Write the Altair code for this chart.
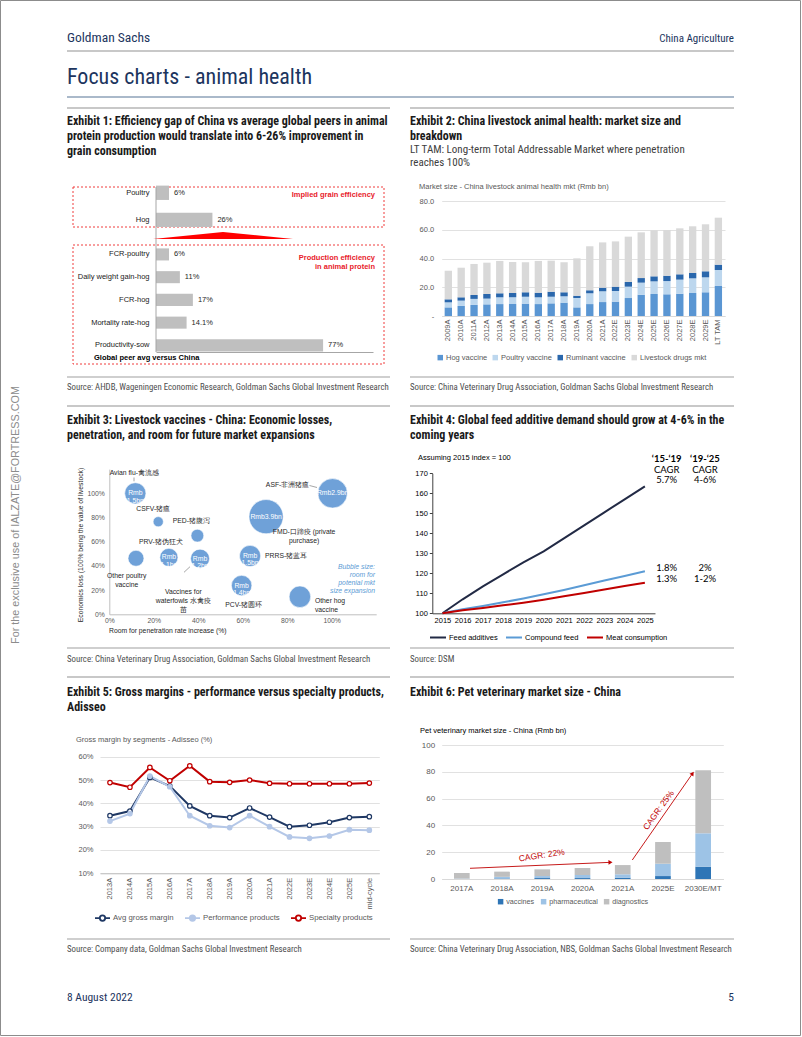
import altair as alt
import pandas as pd

# ------------------------------------------------------------------ data
e1_top_cats = ["Poultry", "Hog"]
e1_top_vals = [6, 26]
e1_top_text = ["6%", "26%"]
e1_bot_cats = ["FCR-poultry", "Daily weight gain-hog", "FCR-hog", "Mortality rate-hog", "Productivity-sow"]
e1_bot_vals = [6, 11, 17, 14.1, 77]
e1_bot_text = ["6%", "11%", "17%", "14.1%", "77%"]

e2_years = ["2009A", "2010A", "2011A", "2012A", "2013A", "2014A", "2015A", "2016A", "2017A", "2018A",
            "2019A", "2020A", "2021A", "2022E", "2023E", "2024E", "2025E", "2026E", "2027E", "2028E",
            "2029E", "LT TAM"]
e2_hog = [6.0, 7.0, 7.7, 8.1, 8.3, 8.3, 8.6, 8.3, 8.8, 9.3, 6.0, 8.3, 9.7, 10.0, 12.5, 14.8, 15.3, 15.1, 15.5, 16.0, 16.5, 20.9]
e2_poultry = [3.5, 3.7, 4.2, 4.0, 4.7, 4.7, 4.8, 4.7, 4.6, 4.4, 6.5, 7.5, 7.5, 7.4, 7.9, 8.4, 8.8, 9.2, 9.8, 10.2, 10.4, 11.1]
e2_ruminant = [2.1, 2.3, 2.7, 3.2, 2.8, 3.0, 3.1, 3.2, 3.5, 2.8, 1.6, 2.1, 2.5, 3.0, 3.3, 3.2, 3.5, 3.7, 3.7, 3.7, 4.2, 3.7]
e2_drugs = [19.9, 20.6, 21.6, 21.8, 22.5, 21.6, 20.9, 22.1, 21.6, 20.9, 26.0, 30.6, 31.5, 31.5, 31.5, 31.8, 32.0, 31.8, 32.0, 32.5, 32.7, 32.7]
e2_series = ["Hog vaccine", "Poultry vaccine", "Ruminant vaccine", "Livestock drugs mkt"]

e3_names = ["Avian flu", "CSFV", "PED", "PRV", "Other poultry", "Waterfowls", "ASF", "FMD", "PRRS", "PCV", "Other hog"]
e3_labels = ["Avian flu-禽流感", "CSFV-猪瘟", "PED-猪腹泻", "PRV-猪伪狂犬", "Other poultry\nvaccine",
             "Vaccines for\nwaterfowls 水禽疫\n苗", "ASF-非洲猪瘟", "FMD-口蹄疫 (private\npurchase)", "PRRS-猪蓝耳",
             "PCV-猪圆环", "Other hog\nvaccine"]
e3_room = [0.117, 0.22, 0.396, 0.268, 0.12, 0.408, 1.004, 0.705, 0.633, 0.595, 0.857]
e3_loss = [1.00, 0.765, 0.65, 0.47, 0.463, 0.46, 1.00, 0.807, 0.482, 0.237, 0.145]
e3_size = [1.5, 0.35, 0.55, 1.1, 0.85, 1.2, 2.9, 3.9, 1.5, 1.4, 1.55]
e3_inner = ["Rmb\n1.5bn", "", "", "Rmb\n1.1bn", "", "Rmb\n1.2bn", "Rmb2.9bn", "Rmb3.9bn", "Rmb\n1.5bn", "Rmb\n1.4bn", ""]

e4_years = ["2015", "2016", "2017", "2018", "2019", "2020", "2021", "2022", "2023", "2024", "2025"]
e4_feed = [100, 107, 113.5, 119.5, 125.5, 131, 137.5, 144, 150.5, 157, 163.5]
e4_compound = [100, 102, 103.7, 105.5, 107.4, 109.5, 111.7, 114, 116.4, 118.7, 121]
e4_meat = [100, 101.5, 102.7, 104, 105.3, 106.8, 108.5, 110.2, 111.9, 113.6, 115.3]
e4_series = ["Feed additives", "Compound feed", "Meat consumption"]

e5_years = ["2013A", "2014A", "2015A", "2016A", "2017A", "2018A", "2019A", "2020A", "2021A", "2022E",
            "2023E", "2024E", "2025E", "mid-cycle"]
e5_avg = [34.7, 36.7, 51.1, 47.4, 38.9, 34.7, 33.9, 38.0, 34.1, 30.0, 30.6, 31.9, 33.9, 34.3]
e5_perf = [32.4, 35.6, 51.7, 47.1, 34.7, 30.4, 29.6, 34.7, 30.0, 25.6, 25.0, 26.0, 28.7, 28.5]
e5_spec = [48.9, 46.9, 55.4, 49.7, 56.1, 49.3, 49.0, 50.0, 48.6, 48.4, 48.4, 48.4, 48.4, 48.7]
e5_series = ["Avg gross margin", "Performance products", "Specialty products"]

e6_years = ["2017A", "2018A", "2019A", "2020A", "2021A", "2025E", "2030E/MT"]
e6_vaccines = [0.0, 0.4, 0.7, 0.7, 1.0, 2.2, 9.2]
e6_pharma = [0.3, 1.2, 1.5, 2.3, 2.5, 9.2, 24.9]
e6_diag = [4.2, 3.9, 5.0, 5.2, 6.9, 16.2, 47.0]
e6_series = ["vaccines", "pharmaceutical", "diagnostics"]

# ------------------------------------------------------------------ style
W, H = 802, 1037
NARROW = "Liberation Sans Narrow, Arial Narrow, Roboto Condensed, Roboto, sans-serif"
SANS = "Liberation Sans, Arial, Helvetica, sans-serif"
NAVY = "#1c355e"
GREY_TXT = "#595959"

layers = []


def text(s, x, y, size=7.5, color="#000000", font=SANS, weight="normal", align="left",
         baseline="middle", angle=None, italic=False, line_height=None):
    props = dict(font=font, fontSize=size, color=color, fontWeight=weight, align=align, baseline=baseline)
    if angle is not None:
        props["angle"] = angle
    if italic:
        props["fontStyle"] = "italic"
    if line_height is not None:
        props["lineHeight"] = line_height
        props["lineBreak"] = "\n"
    return alt.Chart(pd.DataFrame({"t": [s]})).mark_text(**props).encode(
        x=alt.value(x), y=alt.value(y), text="t:N")


def seg(x1, y1, x2, y2, color, width=1.0, dash=None):
    props = dict(color=color, strokeWidth=width)
    if dash is not None:
        props["strokeDash"] = dash
    return alt.Chart(pd.DataFrame({"a": [0]})).mark_rule(**props).encode(
        x=alt.value(x1), y=alt.value(y1), x2=alt.value(x2), y2=alt.value(y2))


def box(x1, y1, x2, y2, color, width=1.0, dash=None):
    props = dict(fill="transparent", stroke=color, strokeWidth=width)
    if dash is not None:
        props["strokeDash"] = dash
    return alt.Chart(pd.DataFrame({"a": [0]})).mark_rect(**props).encode(
        x=alt.value(x1), y=alt.value(y1), x2=alt.value(x2), y2=alt.value(y2))


def axis(**kw):
    base = dict(title=None, labelFont=SANS, labelFontSize=7.5, labelColor=GREY_TXT, labelOverlap=False,
                labelFlush=False, grid=False, ticks=False, domain=False)
    base.update(kw)
    return alt.Axis(**base)


def legend(x, y, **kw):
    base = dict(orient="none", legendX=x, legendY=y, direction="horizontal", title=None, gridAlign="each",
                labelFont=SANS, labelFontSize=7.5, labelColor=GREY_TXT, labelOffset=2)
    base.update(kw)
    return alt.Legend(**base)


# ------------------------------------------------------------------ page furniture
layers.append(box(0.5, 0.5, 800.5, 1035.5, "#8c8c8c", 1))
layers.append(text("Goldman Sachs", 67, 42, size=13.5, color=NAVY, font=NARROW, baseline="alphabetic"))
layers.append(text("China Agriculture", 734, 42, size=11, color=NAVY, font=NARROW, align="right", baseline="alphabetic"))
layers.append(seg(67, 51, 734, 51, "#c8c8c8", 2))
layers.append(text("Focus charts - animal health", 67, 84, size=22, color=NAVY, font=NARROW, baseline="alphabetic"))
layers.append(seg(67, 97, 734, 97, "#8ea2b9", 1.5))
layers.append(text("For the exclusive use of IALZATE@FORTRESS.COM", 16, 515, size=10.8, color="#8c8c8c",
                   align="center", angle=270))
layers.append(text("8 August 2022", 67, 1001, size=11.5, color=NAVY, font=NARROW, baseline="alphabetic"))
layers.append(text("5", 734, 1001, size=11.5, color=NAVY, font=NARROW, align="right", baseline="alphabetic"))

TITLE_C = "#1a1a1a"
SRC_C = "#4d4d4d"
for (x1, x2) in [(67, 390), (410, 734)]:
    for y in [108, 406, 677]:
        layers.append(seg(x1, y, x2, y, "#c8c8c8", 2))
    for y in [377, 648, 939]:
        layers.append(seg(x1, y, x2, y, "#bfbfbf", 1.5))

titles = [
    (67, 124.5, "Exhibit 1: Efficiency gap of China vs average global peers in animal\nprotein production would translate into 6-26% improvement in\ngrain consumption"),
    (410, 124.5, "Exhibit 2: China livestock animal health: market size and\nbreakdown"),
    (67, 423.5, "Exhibit 3: Livestock vaccines - China: Economic losses,\npenetration, and room for future market expansions"),
    (410, 423.5, "Exhibit 4: Global feed additive demand should grow at 4-6% in the\ncoming years"),
    (67, 695.5, "Exhibit 5: Gross margins - performance versus specialty products,\nAdisseo"),
    (410, 695.5, "Exhibit 6: Pet veterinary market size - China"),
]
for x, y, t in titles:
    layers.append(text(t, x, y, size=12, color=TITLE_C, font=NARROW, weight="bold", baseline="alphabetic",
                       line_height=15))
layers.append(text("LT TAM: Long-term Total Addressable Market where penetration\nreaches 100%", 410, 152.5,
                   size=11, color="#404040", font=NARROW, baseline="alphabetic", line_height=13.5))

sources = [
    (67, 386.5, "Source: AHDB, Wageningen Economic Research, Goldman Sachs Global Investment Research"),
    (410, 386.5, "Source: China Veterinary Drug Association, Goldman Sachs Global Investment Research"),
    (67, 659, "Source: China Veterinary Drug Association, Goldman Sachs Global Investment Research"),
    (410, 659, "Source: DSM"),
    (67, 949, "Source: Company data, Goldman Sachs Global Investment Research"),
    (410, 949, "Source: China Veterinary Drug Association, NBS, Goldman Sachs Global Investment Research"),
]
for x, y, t in sources:
    layers.append(text(t, x, y, size=8.8, color=SRC_C, font=NARROW))

# ------------------------------------------------------------------ Exhibit 1
E1_X0, E1_X1 = 156, 373


def e1_block(cats, vals, labels, yrange, bottom_axis):
    df = pd.DataFrame({"cat": cats, "v": vals, "lbl": labels})
    xs = alt.Scale(domain=[0, 100], range=[E1_X0, E1_X1], nice=False, zero=True)
    ys = alt.Scale(domain=cats, range=yrange, paddingInner=0.47, paddingOuter=0)
    if bottom_axis:
        xax = axis(orient="bottom", offset=352 - H, labels=False, domain=True, domainColor="#a6a6a6")
    else:
        xax = None
    yax = axis(orient="left", offset=-E1_X0, labelColor="#1a1a1a", labelPadding=7, labelLimit=200)
    xe = alt.X("v:Q", scale=xs, axis=xax)
    ye = alt.Y("cat:N", scale=ys, axis=yax, sort=cats)
    bars = alt.Chart(df).mark_bar(color="#bfbfbf").encode(x=xe, y=ye)
    lbl = alt.Chart(df).mark_text(align="left", baseline="middle", dx=5, font=SANS, fontSize=7.5,
                                  color="#262626").encode(x=xe, y=ye, text="lbl:N")
    return alt.layer(bars, lbl)


layers.append(box(73, 187, 384, 227, "#f03c3c", 1, [2, 2]))
layers.append(box(73, 245, 384, 364, "#f03c3c", 1, [2, 2]))
layers.append(e1_block(e1_top_cats, e1_top_vals, e1_top_text, [185.6, 227], False))
layers.append(e1_block(e1_bot_cats, e1_bot_vals, e1_bot_text, [248.4, 351.4], True))
layers.append(seg(E1_X0, 187, E1_X0, 352, "#a6a6a6", 1))
layers.append(alt.Chart(pd.DataFrame({"a": [0]})).mark_point(
    shape="M-1,0 L0,-0.1 L1,0 Z", size=19600, filled=True, color="#ff0000", opacity=1, strokeWidth=0).encode(
    x=alt.value(223), y=alt.value(239)))
layers.append(text("Implied grain efficiency", 375, 195, size=7.5, color="#e8202a", weight="bold", align="right"))
layers.append(text("Production efficiency\nin animal protein", 375, 257.5, size=7.5, color="#e8202a", weight="bold",
                   align="right", line_height=9))
layers.append(text("Global peer avg versus China", 94, 357.5, size=7.5, color="#000000", weight="bold"))

# ------------------------------------------------------------------ Exhibit 2
rows = []
for si, (s, vals) in enumerate(zip(e2_series, [e2_hog, e2_poultry, e2_ruminant, e2_drugs])):
    for yr, v in zip(e2_years, vals):
        rows.append({"year": yr, "series": s, "v": v, "o": si})
df2 = pd.DataFrame(rows)
ex2 = alt.Chart(df2).mark_bar().encode(
    x=alt.X("year:N", sort=e2_years,
            scale=alt.Scale(domain=e2_years, range=[441.7, 725], paddingInner=0.43, paddingOuter=0.23),
            axis=axis(orient="bottom", offset=316 - H, labelAngle=-90, labelPadding=3, domain=True,
                      domainColor="#d9d9d9")),
    y=alt.Y("v:Q", stack="zero", scale=alt.Scale(domain=[0, 80], range=[316, 201], nice=False, zero=True),
            axis=axis(orient="left", offset=-441.7, values=[0, 20, 40, 60, 80], labelPadding=8, grid=True,
                      gridColor="#d9d9d9", gridWidth=0.8,
                      labelExpr="datum.value == 0 ? '-' : format(datum.value, '.1f')")),
    color=alt.Color("series:N", scale=alt.Scale(domain=e2_series, range=["#5a96d3", "#bdd7ee", "#2a67ac", "#d9d9d9"]),
                    legend=legend(436.5, 353.5, symbolType="square", symbolSize=30, symbolStrokeWidth=0,
                                  columnPadding=4)),
    order=alt.Order("o:Q", sort="ascending"))
layers.append(ex2)
layers.append(text("Market size - China livestock animal health mkt (Rmb bn)", 419, 187, size=7.5, color=GREY_TXT))

# ------------------------------------------------------------------ Exhibit 3
df3 = pd.DataFrame({"name": e3_names, "label": e3_labels, "room": e3_room, "loss": e3_loss,
                    "size": e3_size, "inner": e3_inner})
xs3 = alt.Scale(domain=[0, 1.2], range=[109.3, 376.2], nice=False, zero=False)
ys3 = alt.Scale(domain=[0, 1.2], range=[614.3, 469.1], nice=False, zero=False)
ss3 = alt.Scale(type="linear", domain=[0, 4], range=[0, 1200], zero=True, nice=False)
FS3 = 6.8
xe3 = alt.X("room:Q", scale=xs3,
            axis=axis(orient="bottom", offset=614.3 - H, values=[0, 0.2, 0.4, 0.6, 0.8, 1.0], format=".0%",
                      labelFontSize=FS3, labelPadding=3, domain=True, domainColor="#bfbfbf"))
ye3 = alt.Y("loss:Q", scale=ys3,
            axis=axis(orient="left", offset=-109.3, values=[0, 0.2, 0.4, 0.6, 0.8, 1.0], format=".0%",
                      labelFontSize=FS3, labelPadding=5, domain=True, domainColor="#bfbfbf"))
bub = alt.Chart(df3).mark_circle(color="#6fa1d8", opacity=1, stroke="white", strokeWidth=0.6).encode(
    x=xe3, y=ye3, size=alt.Size("size:Q", scale=ss3, legend=None))
inner = alt.Chart(df3).mark_text(color="white", font=SANS, fontSize=FS3, align="center", baseline="middle",
                                  lineBreak="\n", lineHeight=7.5).encode(x=xe3, y=ye3, text="inner:N")
# label placement relative to each bubble centre (dx, dy in pixels, alignment)
e3_offsets = {
    "Avian flu": (-1, -20, "center"),
    "CSFV": (-5, -12.5, "center"),
    "PED": (-6, -14.5, "center"),
    "PRV": (-8, -15.5, "center"),
    "Other poultry": (-9.3, 18, "center"),
    "Waterfowls": (-16.7, 33, "center"),
    "ASF": (-45, -8, "center"),
    "FMD": (38, 15.5, "center"),
    "PRRS": (15, 0, "left"),
    "PCV": (2, 19, "center"),
    "Other hog": (15, 4, "left"),
}
ex3_parts = [bub, inner]
for nm, (dx, dy, al) in e3_offsets.items():
    ex3_parts.append(alt.Chart(df3).transform_filter(alt.datum.name == nm).mark_text(
        font=SANS, fontSize=FS3, color="#262626", align=al, baseline="middle", dx=dx, dy=dy,
        lineBreak="\n", lineHeight=9).encode(x=xe3, y=ye3, text="label:N"))
layers.append(alt.layer(*ex3_parts))
layers.append(seg(309.5, 485.5, 317, 487.5, "#7f7f7f", 0.7))
layers.append(seg(190, 566.7, 184, 572.3, "#7f7f7f", 0.7))
layers.append(seg(134, 477.5, 134, 481.3, "#7f7f7f", 0.7))
layers.append(text("Room for penetration rate increase (%)", 109, 631, size=FS3, color="#262626"))
layers.append(text("Economics loss (100% being the value of livestock)", 80.7, 545, size=FS3, color="#262626",
                   align="center", angle=270))
layers.append(text("Bubble size:\nroom for\npotenial mkt\nsize expansion", 375, 566.5, size=FS3, color="#5b9bd5",
                   italic=True, align="right", line_height=8.3))

# ------------------------------------------------------------------ Exhibit 4
rows = []
for s, vals in zip(e4_series, [e4_feed, e4_compound, e4_meat]):
    for yr, v in zip(e4_years, vals):
        rows.append({"year": yr, "series": s, "v": v})
df4 = pd.DataFrame(rows)
ex4 = alt.Chart(df4).mark_line(strokeWidth=2).encode(
    x=alt.X("year:O", sort=e4_years,
            scale=alt.Scale(type="point", domain=e4_years, range=[432.3, 655], padding=0.5),
            axis=axis(orient="bottom", offset=613.3 - H, labelAngle=0, labelPadding=3, labelColor="#000000",
                      domain=True, domainColor="#404040")),
    y=alt.Y("v:Q", scale=alt.Scale(domain=[100, 170], range=[613.3, 473.3], nice=False, zero=False),
            axis=axis(orient="left", offset=-432.3, values=[100, 110, 120, 130, 140, 150, 160, 170],
                      labelColor="#000000", labelPadding=2, domain=True, domainColor="#404040", ticks=True,
                      tickSize=3, tickColor="#404040")),
    color=alt.Color("series:N", scale=alt.Scale(domain=e4_series, range=["#222a45", "#5b9bd5", "#c00000"]),
                    legend=legend(429, 628.5, symbolType="stroke", symbolSize=256, symbolStrokeWidth=2,
                                  labelColor="#000000", columnPadding=4)))
layers.append(ex4)
layers.append(text("Assuming 2015 index = 100", 418, 457.7, size=7.5, color="#000000"))
CAL = "Lato, Open Sans, sans-serif"
for cx, lines in [(666.7, ["\u201815-\u201819", "CAGR", "5.7%", "1.8%", "1.3%"]),
                  (705, ["\u201819-\u201825", "CAGR", "4-6%", "2%", "1-2%"])]:
    layers.append(text(lines[0], cx, 459, size=9.5, color="#000000", font=CAL, weight="bold", align="center"))
    layers.append(text(lines[1], cx, 469.5, size=9.5, color="#000000", font=CAL, align="center"))
    layers.append(text(lines[2], cx, 480, size=9.5, color="#000000", font=CAL, align="center"))
    layers.append(text(lines[3], cx, 568.3, size=9.5, color="#000000", font=CAL, align="center"))
    layers.append(text(lines[4], cx, 579.3, size=9.5, color="#000000", font=CAL, align="center"))

# ------------------------------------------------------------------ Exhibit 5
rows = []
for s, vals in zip(e5_series, [e5_avg, e5_perf, e5_spec]):
    for yr, v in zip(e5_years, vals):
        rows.append({"year": yr, "series": s, "v": v})
df5 = pd.DataFrame(rows)
xs5 = alt.Scale(type="point", domain=e5_years, range=[100, 379.3], padding=0.5)
ys5 = alt.Scale(domain=[10, 60], range=[873.3, 756.7], nice=False, zero=False)
e5_colors = ["#1f3864", "#b4c7e7", "#c00000"]
leg_path = "M-1,0 L-0.36,0 M0.36,0 L1,0 M-0.36,0 A0.36,0.36 0 1,1 0.36,0 A0.36,0.36 0 1,1 -0.36,0"
xe5 = alt.X("year:O", sort=e5_years, scale=xs5,
            axis=axis(orient="bottom", offset=873.3 - H, labelAngle=-90, labelPadding=4, domain=True,
                      domainColor="#bfbfbf"))
ye5 = alt.Y("v:Q", scale=ys5,
            axis=axis(orient="left", offset=-100, values=[10, 20, 30, 40, 50, 60], labelPadding=7,
                      labelExpr="datum.value + '%'", grid=True, gridColor="#d9d9d9", gridWidth=0.8))
l5 = alt.Chart(df5).mark_line(strokeWidth=2).encode(
    x=xe5, y=ye5,
    color=alt.Color("series:N", scale=alt.Scale(domain=e5_series, range=e5_colors),
                    legend=legend(94, 909.5, symbolType=leg_path, symbolSize=225, symbolStrokeWidth=1.8,
                                  symbolFillColor="white", labelFontSize=7.8, columnPadding=7)))
p5 = alt.Chart(df5).mark_point(filled=True, size=20, strokeWidth=1.2, shape="circle", opacity=1).encode(
    x=xe5, y=ye5,
    stroke=alt.Stroke("series:N", scale=alt.Scale(domain=e5_series, range=e5_colors), legend=None),
    fill=alt.Fill("series:N", scale=alt.Scale(domain=e5_series, range=["#ffffff", "#b4c7e7", "#ffffff"]),
                  legend=None))
layers.append(alt.layer(l5, p5))
layers.append(text("Gross margin by segments - Adisseo  (%)", 76, 740, size=7.5, color=GREY_TXT))

# ------------------------------------------------------------------ Exhibit 6
rows = []
for si, (s, vals) in enumerate(zip(e6_series, [e6_vaccines, e6_pharma, e6_diag])):
    for yr, v in zip(e6_years, vals):
        rows.append({"year": yr, "series": s, "v": v, "o": si})
df6 = pd.DataFrame(rows)
ex6 = alt.Chart(df6).mark_bar().encode(
    x=alt.X("year:N", sort=e6_years,
            scale=alt.Scale(domain=e6_years, range=[441.7, 723.3], paddingInner=0.61, paddingOuter=0.305),
            axis=axis(orient="bottom", offset=879 - H, labelAngle=0, labelPadding=5, labelFontSize=8,
                      domain=True, domainColor="#d9d9d9")),
    y=alt.Y("v:Q", stack="zero", scale=alt.Scale(domain=[0, 100], range=[879, 745], nice=False, zero=True),
            axis=axis(orient="left", offset=-441.7, values=[0, 20, 40, 60, 80, 100], labelPadding=7,
                      labelFontSize=8, grid=True, gridColor="#d9d9d9", gridWidth=0.8)),
    color=alt.Color("series:N", scale=alt.Scale(domain=e6_series, range=["#2e75b6", "#9dc3e6", "#bfbfbf"]),
                    legend=legend(497, 898, symbolType="square", symbolSize=30, symbolStrokeWidth=0,
                                  labelFontSize=7.2, columnPadding=5)),
    order=alt.Order("o:Q", sort="ascending"))
layers.append(ex6)
layers.append(text("Pet veterinary market size - China (Rmb bn)", 420, 731, size=7.5, color="#000000"))
RED = "#c00000"
layers.append(seg(470, 868.3, 609, 862.4, RED, 0.9))
layers.append(seg(632.3, 860, 691.5, 775, RED, 0.9))
layers.append(alt.Chart(pd.DataFrame({"a": [0]})).mark_point(
    shape="triangle-right", size=22, filled=True, color=RED, opacity=1, angle=357.6).encode(
    x=alt.value(610.5), y=alt.value(862.3)))
layers.append(alt.Chart(pd.DataFrame({"a": [0]})).mark_point(
    shape="triangle-right", size=22, filled=True, color=RED, opacity=1, angle=304.8).encode(
    x=alt.value(692.6), y=alt.value(773.4)))
layers.append(text("CAGR: 22%", 541.7, 855, size=8.5, color=RED, align="center", angle=351.5))
layers.append(text("CAGR: 25%", 658.3, 810, size=8.5, color=RED, align="center", angle=306))

# ------------------------------------------------------------------ assemble
chart = alt.layer(*layers).resolve_scale(
    x="independent", y="independent", color="independent", fill="independent", stroke="independent",
    size="independent").resolve_axis(x="independent", y="independent").properties(
    width=W, height=H, autosize=alt.AutoSizeParams(type="none"), padding=0, background="white"
).configure_view(strokeWidth=0)

chart.save("out.html", embed_options={"renderer": "svg", "actions": False})
